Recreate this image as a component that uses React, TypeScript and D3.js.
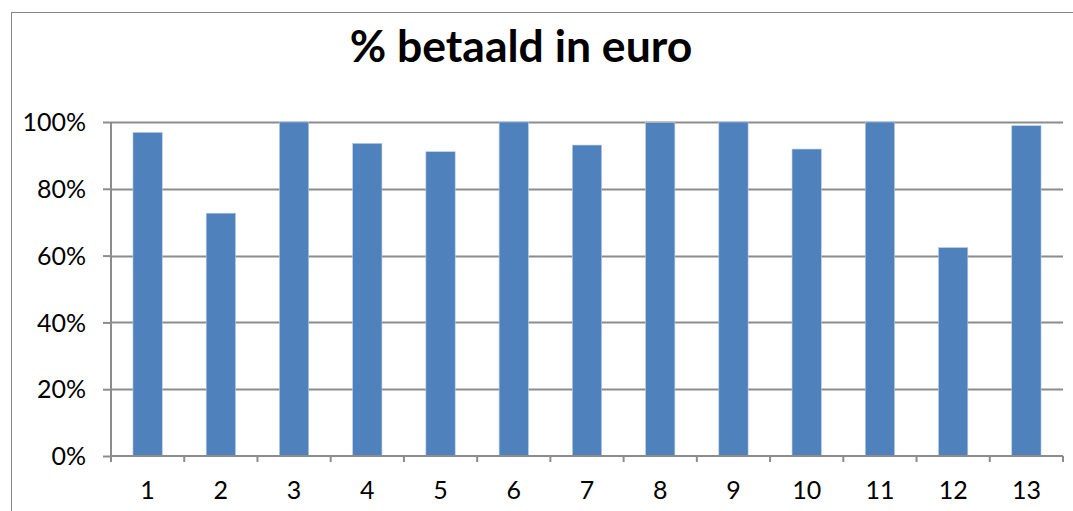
import React, { useEffect, useRef } from 'react'
import * as d3 from 'd3'

const categories = ['1', '2', '3', '4', '5', '6', '7', '8', '9', '10', '11', '12', '13']
const values = [96.9, 72.7, 100, 93.6, 91.1, 100, 93.1, 99.8, 100, 91.9, 100, 62.4, 98.9]
const yTicks = [0, 20, 40, 60, 80, 100]
const title = '% betaald in euro'

const App = () => {
  const svg = useRef<SVGSVGElement>(null)

  useEffect(() => {
    const root = d3.select(svg.current)
    root.selectAll('*').remove()

    const left = 111
    const right = 1063
    const top = 122
    const bottom = 456
    const font = 'Lato, sans-serif'

    // chart frame
    root
      .append('rect')
      .attr('x', 11.5)
      .attr('y', 12.5)
      .attr('width', 1100)
      .attr('height', 600)
      .attr('fill', '#fff')
      .attr('stroke', '#868686')

    root
      .append('text')
      .attr('x', 521)
      .attr('y', 62)
      .attr('text-anchor', 'middle')
      .attr('font-family', font)
      .attr('font-weight', 'bold')
      .attr('font-size', 44.5)
      .attr('fill', '#000')
      .text(title)

    const x = d3.scaleBand().domain(categories).range([left, right]).paddingInner(0.6).paddingOuter(0.3)
    const band = d3.scaleBand().domain(categories).range([left, right])
    const y = d3.scaleLinear().domain([0, 100]).range([bottom, top])

    // gridlines
    root
      .append('g')
      .selectAll('line')
      .data(yTicks.filter(t => t > 0))
      .enter()
      .append('line')
      .attr('x1', left)
      .attr('x2', right)
      .attr('y1', d => Math.round(y(d)) + 0.5)
      .attr('y2', d => Math.round(y(d)) + 0.5)
      .attr('stroke', '#8c8c8c')
      .attr('stroke-width', 2)

    root
      .append('g')
      .selectAll('rect')
      .data(values)
      .enter()
      .append('rect')
      .attr('x', (d, i) => x(categories[i]))
      .attr('y', d => y(d))
      .attr('width', x.bandwidth())
      .attr('height', d => bottom - y(d))
      .attr('fill', '#4f81bd')
      .attr('stroke', '#b9cde5')
      .attr('stroke-width', 0.6)

    // y axis
    const yAxis = d3
      .axisLeft(y)
      .tickValues(yTicks)
      .tickFormat(d => `${d}%`)
      .tickSize(8)
      .tickPadding(17)
    const gy = root.append('g').attr('transform', `translate(${left},0)`).call(yAxis)
    gy.selectAll('line, path').attr('stroke', '#8c8c8c').attr('stroke-width', 2)
    gy.select('path').attr('d', `M0,${top}V${bottom}`)
    gy.selectAll('text').attr('font-family', font).attr('font-size', 25).attr('fill', '#000').attr('dy', '0.35em')

    // x axis: ticks between categories
    const gx = root.append('g').attr('transform', `translate(0,${bottom})`)
    gx.append('line').attr('x1', left).attr('x2', right).attr('stroke', '#8c8c8c').attr('stroke-width', 2)
    gx.selectAll('.tick')
      .data(categories)
      .enter()
      .append('line')
      .attr('x1', d => band(d) + band.bandwidth())
      .attr('x2', d => band(d) + band.bandwidth())
      .attr('y1', 0)
      .attr('y2', 6)
      .attr('stroke', '#8c8c8c')
      .attr('stroke-width', 2)
    gx.append('line').attr('x1', left).attr('x2', left).attr('y1', 0).attr('y2', 6).attr('stroke', '#8c8c8c').attr('stroke-width', 2)
    gx.selectAll('text')
      .data(categories)
      .enter()
      .append('text')
      .attr('x', d => band(d) + band.bandwidth() / 2)
      .attr('y', 43)
      .attr('text-anchor', 'middle')
      .attr('font-family', font)
      .attr('font-size', 25)
      .attr('fill', '#000')
      .text(d => d)
  }, [])

  return (
    <svg ref={svg} width={1073} height={511} style={{ position: 'absolute', left: 0, top: 0 }}></svg>
  )
}

export default App
